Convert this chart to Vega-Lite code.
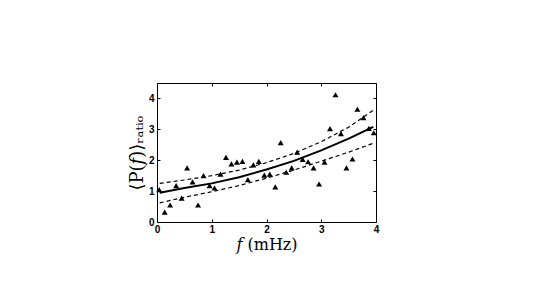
{
  "$schema": "https://vega.github.io/schema/vega-lite/v6.json",
  "width": 219,
  "height": 139,
  "autosize": {"type": "none"},
  "padding": {"left": 157, "top": 83, "right": 169, "bottom": 78},
  "background": "white",
  "config": {
    "view": {"stroke": "black", "strokeWidth": 1},
    "axis": {
      "domainColor": "black", "tickColor": "black", "labelColor": "black", "titleColor": "black",
      "grid": false, "tickSize": -3, "labelFont": "Liberation Sans", "labelFontWeight": "bold",
      "labelFontSize": 10, "titleFont": "DejaVu Serif", "titleFontWeight": "normal", "titleFontSize": 16
    }
  },
  "datasets": {
    "pts": [
      {"f": 0.04, "p": 1.05}, {"f": 0.14, "p": 0.32}, {"f": 0.24, "p": 0.55}, {"f": 0.35, "p": 1.18},
      {"f": 0.45, "p": 0.77}, {"f": 0.55, "p": 1.75}, {"f": 0.65, "p": 1.30}, {"f": 0.75, "p": 0.55},
      {"f": 0.85, "p": 1.50}, {"f": 0.96, "p": 1.18}, {"f": 1.05, "p": 1.10}, {"f": 1.16, "p": 1.55},
      {"f": 1.26, "p": 2.09}, {"f": 1.36, "p": 1.88}, {"f": 1.46, "p": 1.94}, {"f": 1.56, "p": 1.96},
      {"f": 1.66, "p": 1.37}, {"f": 1.76, "p": 1.85}, {"f": 1.86, "p": 1.96}, {"f": 1.96, "p": 1.52},
      {"f": 2.06, "p": 1.55}, {"f": 2.16, "p": 1.14}, {"f": 2.26, "p": 2.57}, {"f": 2.36, "p": 1.61},
      {"f": 2.46, "p": 1.75}, {"f": 2.56, "p": 2.26}, {"f": 2.66, "p": 2.03}, {"f": 2.76, "p": 1.95},
      {"f": 2.86, "p": 1.75}, {"f": 2.96, "p": 1.23}, {"f": 3.06, "p": 1.94}, {"f": 3.16, "p": 3.02},
      {"f": 3.26, "p": 4.12}, {"f": 3.36, "p": 2.86}, {"f": 3.46, "p": 1.75}, {"f": 3.57, "p": 2.04},
      {"f": 3.66, "p": 3.65}, {"f": 3.77, "p": 3.38}, {"f": 3.87, "p": 3.03}, {"f": 3.96, "p": 2.89}
    ],
    "curves": [
      {"f": 0.05, "fit": 0.95, "lo": 0.62, "hi": 1.25},
      {"f": 0.5, "fit": 1.10, "lo": 0.80, "hi": 1.36},
      {"f": 1.0, "fit": 1.25, "lo": 0.98, "hi": 1.50},
      {"f": 1.5, "fit": 1.45, "lo": 1.18, "hi": 1.68},
      {"f": 2.0, "fit": 1.70, "lo": 1.42, "hi": 1.92},
      {"f": 2.5, "fit": 1.98, "lo": 1.68, "hi": 2.22},
      {"f": 3.0, "fit": 2.32, "lo": 1.97, "hi": 2.60},
      {"f": 3.5, "fit": 2.70, "lo": 2.26, "hi": 3.07},
      {"f": 3.95, "fit": 3.08, "lo": 2.55, "hi": 3.62}
    ]
  },
  "resolve": {"axis": {"x": "independent", "y": "independent"}},
  "layer": [
    {
      "data": {"name": "pts"},
      "mark": {"type": "point", "shape": "triangle-up", "filled": true, "color": "black", "size": 36, "opacity": 1},
      "encoding": {
        "x": {"field": "f", "type": "quantitative", "scale": {"domain": [0, 4], "nice": false},
          "axis": {"values": [0, 1, 2, 3, 4], "title": "𝑓  (mHz)", "labelPadding": 5, "titlePadding": 2, "labelFlush": false}},
        "y": {"field": "p", "type": "quantitative", "scale": {"domain": [0, 4.5], "nice": false},
          "axis": {"values": [0, 1, 2, 3, 4], "title": "⟨P(𝑓)⟩ᵣₐₜᵢₒ", "titleFontSize": 18, "labelPadding": 6, "titlePadding": 2, "labelFlush": false}}
      }
    },
    {
      "data": {"name": "curves"},
      "mark": {"type": "line", "color": "black", "strokeWidth": 2},
      "encoding": {
        "x": {"field": "f", "type": "quantitative", "scale": {"domain": [0, 4], "nice": false},
          "axis": {"orient": "top", "values": [0, 1, 2, 3, 4], "labels": false, "title": null, "domain": false}},
        "y": {"field": "fit", "type": "quantitative", "scale": {"domain": [0, 4.5], "nice": false},
          "axis": {"orient": "right", "values": [0, 1, 2, 3, 4], "labels": false, "title": null, "domain": false}}
      }
    },
    {
      "data": {"name": "curves"},
      "mark": {"type": "line", "color": "black", "strokeWidth": 1.2, "strokeDash": [4, 3]},
      "encoding": {
        "x": {"field": "f", "type": "quantitative", "axis": null},
        "y": {"field": "lo", "type": "quantitative", "axis": null}
      }
    },
    {
      "data": {"name": "curves"},
      "mark": {"type": "line", "color": "black", "strokeWidth": 1.2, "strokeDash": [4, 3]},
      "encoding": {
        "x": {"field": "f", "type": "quantitative", "axis": null},
        "y": {"field": "hi", "type": "quantitative", "axis": null}
      }
    }
  ]
}
